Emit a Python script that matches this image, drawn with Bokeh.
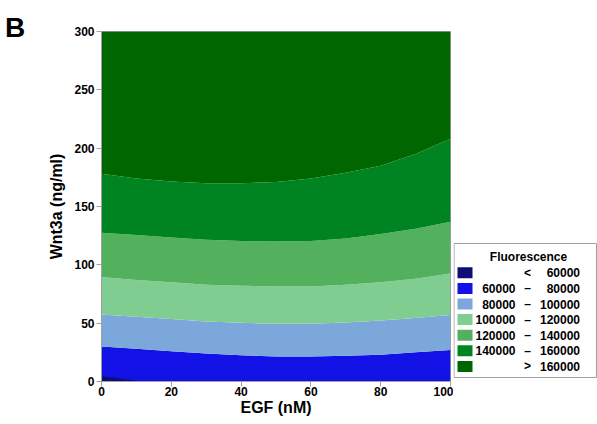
from bokeh.plotting import figure
from bokeh.models import Range1d, FixedTicker, Div
from bokeh.layouts import row
from bokeh.embed import file_html
from bokeh.resources import INLINE
from bokeh.core.properties import value

# ---- data ----
egf = [0, 10, 20, 30, 40, 50, 60, 70, 80, 90, 100]          # EGF (nM)
wnt_80k = [30, 28, 26, 24, 22.5, 21.5, 21.5, 22, 23, 25, 27]  # Wnt3a where fluorescence = 80000
wnt_100k = [57.5, 55.5, 53.5, 51.5, 50.3, 49.5, 49.5, 50.5, 52.3, 54.5, 57]
wnt_120k = [89.5, 87, 85, 83, 82, 81.5, 81.5, 83, 85, 88, 92.5]
wnt_140k = [127.5, 125.5, 123.5, 121.5, 120.5, 120, 120.5, 122.5, 126.5, 131, 137]
wnt_160k = [178, 174, 171.5, 170, 170, 171, 174, 179, 185, 195, 208]
egf_60k = [0, 4, 8, 12]
wnt_60k = [4.5, 3.0, 1.5, 0]

levels = [60000, 80000, 100000, 120000, 140000, 160000]
colors = ["#0d0d75", "#1212e6", "#7ba7db", "#80cd92", "#53b15d", "#008421", "#006700"]
x_ticks = [0, 20, 40, 60, 80, 100]
y_ticks = [0, 50, 100, 150, 200, 250, 300]

FONT = "Liberation Sans"
AX = "#a0a0a0"
H = 424
TOP = 31      # frame top (px)
BOTTOM = 381  # frame bottom (px)

# panel letter
letter = Div(text='<div style="font-family:\'Liberation Sans\',Arial,sans-serif;font-size:28px;'
                  'font-weight:bold;line-height:28px;padding:14px 0 0 5px;color:black;">B</div>',
             width=30, height=50, margin=(0, 0, 0, 0))

p = figure(width=423, height=H, x_range=Range1d(0, 100), y_range=Range1d(0, 300),
           output_backend="svg", toolbar_location=None,
           min_border_left=71, min_border_right=3, min_border_top=TOP, min_border_bottom=H - BOTTOM,
           background_fill_color="white")

y0 = p.y_range.start
y1 = p.y_range.end
bounds = [None, wnt_80k, wnt_100k, wnt_120k, wnt_140k, wnt_160k, None]
# bands from blue (60k-80k) upward
for i in range(1, 7):
    lo = bounds[i - 1] if bounds[i - 1] is not None else y0
    hi = bounds[i] if bounds[i] is not None else y1
    p.varea(x=egf, y1=lo, y2=hi, fill_color=colors[i])
# lowest band (< 60000)
p.varea(x=egf_60k, y1=y0, y2=wnt_60k, fill_color=colors[0])

p.grid.visible = False
p.outline_line_color = AX
for ax in (p.xaxis, p.yaxis):
    ax.axis_line_color = AX
    ax.major_tick_line_color = AX
    ax.major_tick_out = 5
    ax.major_tick_in = 0
    ax.minor_tick_line_color = None
    ax.major_label_text_font = FONT
    ax.major_label_text_font_style = "bold"
    ax.major_label_text_font_size = "12px"
    ax.major_label_text_color = "black"
    ax.axis_label_text_font = FONT
    ax.axis_label_text_font_style = "bold"
    ax.axis_label_text_color = "black"
p.xaxis.ticker = FixedTicker(ticks=x_ticks)
p.yaxis.ticker = FixedTicker(ticks=y_ticks)
p.xaxis.axis_label = "EGF (nM)"
p.yaxis.axis_label = "Wnt3a (ng/ml)"
p.xaxis.axis_label_text_font_size = "16px"
p.yaxis.axis_label_text_font_size = "16px"
p.xaxis.major_label_standoff = 0
p.xaxis.axis_label_standoff = 0
p.yaxis.major_label_standoff = 2
p.yaxis.axis_label_standoff = 6

# ---- legend panel (its frame is aligned with the main frame; y in page px) ----
lg = figure(width=144, height=H, x_range=Range1d(0, 144), y_range=Range1d(BOTTOM, TOP),
            output_backend="svg", toolbar_location=None, min_border=0,
            min_border_top=TOP, min_border_bottom=H - BOTTOM,
            x_axis_type=None, y_axis_type=None, outline_line_color=None)
lg.grid.visible = False
lg.quad(left=[0.5], right=[143], top=[243], bottom=[377], fill_color="white", line_color=AX)
lg.text(x=[75], y=[256], text=["Fluorescence"], text_font=value(FONT), text_font_style="bold",
        text_font_size="12px", text_align="center", text_baseline="middle", text_color="black")

n = len(colors)
ys = [272.3 + i * 15.6 for i in range(n)]
lo_txt = [""] + [str(v) for v in levels[:-1]] + [""]
sep_txt = ["<"] + ["\u2013"] * (len(levels) - 1) + [">"]
hi_txt = [str(levels[0])] + [str(v) for v in levels[1:]] + [str(levels[-1])]
lg.rect(x=[11.5] * n, y=ys, width=15, height=11, fill_color=colors, line_color=None)
common = dict(text_font=value(FONT), text_font_style="bold", text_font_size="12px",
              text_baseline="middle", text_color="black")
lg.text(x=[62] * n, y=ys, text=lo_txt, text_align="right", **common)
lg.text(x=[74] * n, y=ys, text=sep_txt, text_align="center", **common)
lg.text(x=[126.5] * n, y=ys, text=hi_txt, text_align="right", **common)

layout = row(letter, p, lg)
open("out.html", "w").write(file_html(layout, INLINE))
